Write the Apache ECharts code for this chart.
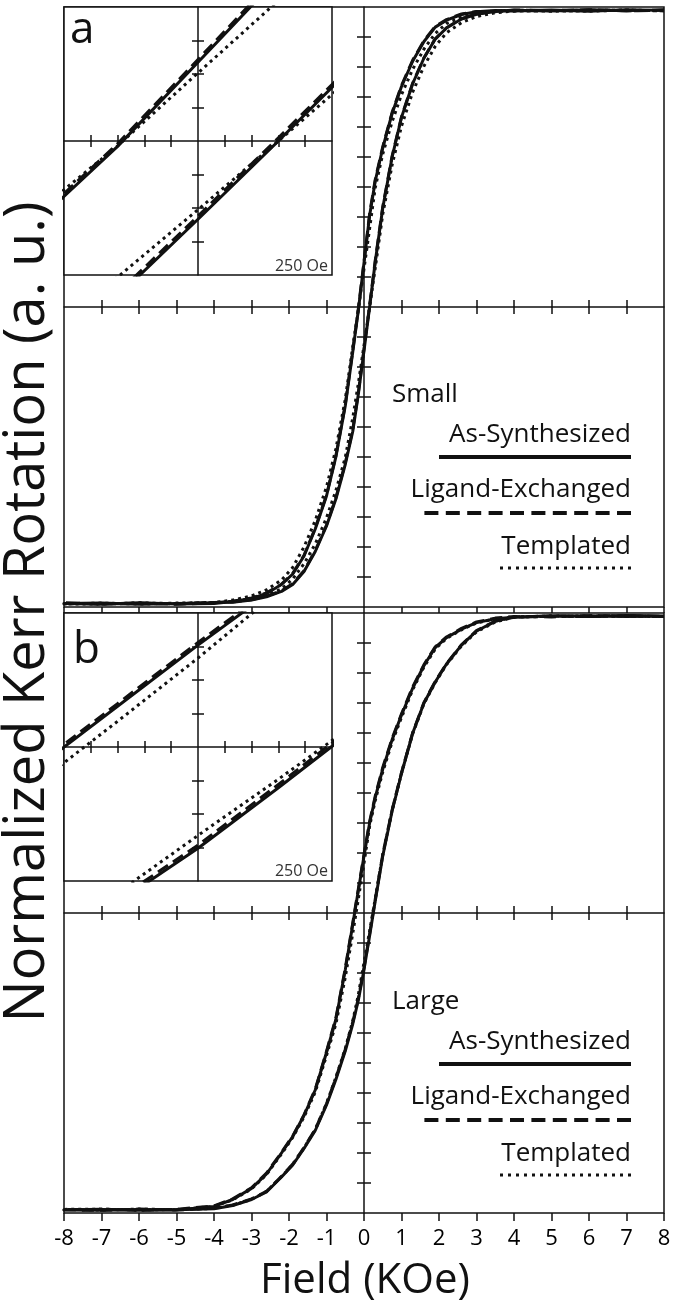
<!DOCTYPE html>
<html>
<head>
<meta charset="utf-8">
<script src="https://cdn.jsdelivr.net/npm/echarts@6/dist/echarts.min.js"></script>
<style>
  html, body { margin: 0; padding: 0; background: #fff; }
  #chart { width: 675px; height: 1305px; }
</style>
</head>
<body>
<div id="chart"></div>
<script>
// Applied field (kOe) for the descending sweep; the ascending sweep runs the same fields in reverse.
const fieldDown = [8, 7, 6, 5, 4, 3.5, 3, 2.6, 2.2, 1.9, 1.6, 1.3, 1, 0.75, 0.5, 0.3, 0.15, 0, -0.15, -0.3,
                   -0.5, -0.75, -1, -1.3, -1.6, -1.9, -2.2, -2.6, -3, -3.5, -4, -5, -6, -7, -8];
const fieldUp = fieldDown.slice().reverse();

// Field tick labels (kOe)
const fieldTicks = [-8, -7, -6, -5, -4, -3, -2, -1, 0, 1, 2, 3, 4, 5, 6, 7, 8];

// (a) Small particles: normalized Kerr rotation
const smallAsSynDown = [0.988, 0.991, 0.986, 0.990, 0.987, 0.988, 0.984, 0.975, 0.956, 0.933, 0.885, 0.820, 0.735, 0.645, 0.530, 0.420, 0.305, 0.147, -0.010, -0.150,
                        -0.330, -0.500, -0.630, -0.740, -0.830, -0.890, -0.925, -0.955, -0.972, -0.982, -0.988, -0.990, -0.986, -0.991, -0.988];
const smallAsSynUp = [-0.990, -0.987, -0.991, -0.988, -0.986, -0.984, -0.977, -0.966, -0.948, -0.925, -0.882, -0.815, -0.730, -0.640, -0.525, -0.415, -0.290, -0.146, 0.000, 0.150,
                      0.330, 0.500, 0.632, 0.745, 0.830, 0.893, 0.930, 0.960, 0.976, 0.985, 0.989, 0.987, 0.991, 0.988, 0.990];
const smallLigDown = [0.990, 0.987, 0.991, 0.988, 0.990, 0.986, 0.985, 0.977, 0.958, 0.935, 0.888, 0.823, 0.738, 0.649, 0.534, 0.425, 0.311, 0.152, -0.005, -0.145,
                      -0.325, -0.496, -0.627, -0.737, -0.828, -0.888, -0.924, -0.953, -0.970, -0.981, -0.986, -0.991, -0.988, -0.990, -0.986];
const smallLigUp = [-0.988, -0.990, -0.987, -0.990, -0.985, -0.983, -0.976, -0.964, -0.946, -0.922, -0.879, -0.812, -0.727, -0.636, -0.520, -0.409, -0.284, -0.140, 0.006, 0.155,
                    0.334, 0.503, 0.634, 0.747, 0.831, 0.894, 0.931, 0.961, 0.977, 0.986, 0.990, 0.988, 0.990, 0.987, 0.989];
const smallTplDown = [0.987, 0.990, 0.988, 0.986, 0.988, 0.984, 0.980, 0.966, 0.945, 0.912, 0.860, 0.793, 0.708, 0.618, 0.510, 0.398, 0.262, 0.127, -0.009, -0.132,
                      -0.308, -0.473, -0.600, -0.712, -0.800, -0.868, -0.910, -0.943, -0.963, -0.977, -0.985, -0.987, -0.990, -0.987, -0.990];
const smallTplUp = [-0.987, -0.990, -0.986, -0.989, -0.985, -0.981, -0.972, -0.961, -0.940, -0.906, -0.856, -0.790, -0.703, -0.612, -0.502, -0.370, -0.254, -0.128, 0.000, 0.130,
                    0.309, 0.474, 0.603, 0.717, 0.803, 0.869, 0.914, 0.948, 0.968, 0.981, 0.986, 0.988, 0.986, 0.990, 0.987];

// (b) Large particles: normalized Kerr rotation
const largeAsSynDown = [0.990, 0.992, 0.988, 0.991, 0.986, 0.981, 0.968, 0.946, 0.918, 0.885, 0.825, 0.750, 0.660, 0.578, 0.480, 0.385, 0.300, 0.190, 0.076, -0.038,
                        -0.190, -0.355, -0.465, -0.590, -0.675, -0.745, -0.800, -0.870, -0.918, -0.955, -0.978, -0.990, -0.988, -0.991, -0.989];
const largeAsSynUp = [-0.990, -0.988, -0.991, -0.989, -0.986, -0.975, -0.955, -0.930, -0.880, -0.840, -0.785, -0.725, -0.640, -0.555, -0.460, -0.370, -0.290, -0.189, -0.076, 0.040,
                      0.190, 0.340, 0.465, 0.600, 0.700, 0.770, 0.830, 0.893, 0.940, 0.972, 0.987, 0.990, 0.991, 0.988, 0.990];
const largeLigDown = [0.988, 0.990, 0.991, 0.987, 0.988, 0.983, 0.970, 0.949, 0.920, 0.887, 0.828, 0.754, 0.664, 0.582, 0.485, 0.390, 0.305, 0.195, 0.081, -0.033,
                      -0.185, -0.350, -0.461, -0.587, -0.673, -0.743, -0.798, -0.867, -0.916, -0.953, -0.976, -0.988, -0.991, -0.987, -0.990];
const largeLigUp = [-0.988, -0.991, -0.987, -0.990, -0.984, -0.973, -0.953, -0.928, -0.878, -0.837, -0.782, -0.721, -0.636, -0.550, -0.455, -0.364, -0.284, -0.183, -0.070, 0.046,
                    0.195, 0.344, 0.468, 0.602, 0.702, 0.772, 0.831, 0.894, 0.941, 0.973, 0.986, 0.990, 0.988, 0.991, 0.989];
const largeTplDown = [0.988, 0.990, 0.988, 0.990, 0.987, 0.980, 0.967, 0.944, 0.915, 0.880, 0.820, 0.745, 0.652, 0.570, 0.470, 0.375, 0.290, 0.166, 0.048, -0.068,
                      -0.215, -0.370, -0.475, -0.597, -0.680, -0.748, -0.803, -0.872, -0.920, -0.956, -0.978, -0.989, -0.987, -0.990, -0.988];
const largeTplUp = [-0.990, -0.987, -0.990, -0.988, -0.985, -0.974, -0.955, -0.928, -0.879, -0.838, -0.783, -0.722, -0.635, -0.548, -0.452, -0.360, -0.272, -0.165, -0.060, 0.048,
                    0.195, 0.342, 0.466, 0.598, 0.698, 0.768, 0.828, 0.890, 0.937, 0.970, 0.986, 0.989, 0.990, 0.990, 0.988];

const seriesNames = ['As-Synthesized', 'Ligand-Exchanged', 'Templated'];
const panelLabels = ['Small', 'Large'];

const FONT = '"Open Sans", "Noto Sans", sans-serif';
const INK = '#111';

// Inner tick positions for the axes that cross at the origin
const mainXTicks = [-7, -6, -5, -4, -3, -2, -1, 1, 2, 3, 4, 5, 6, 7];
const mainYTicks = [-0.9, -0.8, -0.7, -0.6, -0.5, -0.4, -0.3, -0.2, -0.1, 0.1, 0.2, 0.3, 0.4, 0.5, 0.6, 0.7, 0.8, 0.9];
const insetXTicks = [-0.2, -0.15, -0.1, -0.05, 0.05, 0.1, 0.15, 0.2];
const insetYTicks = [-0.1875, -0.125, -0.0625, 0.0625, 0.125, 0.1875];

function loop(down, up) {
  return fieldDown.map((x, i) => [x, down[i]]).concat(fieldUp.map((x, i) => [x, up[i]]));
}

const xAxes = [];
const yAxes = [];

// Builds a boxed cartesian frame with a pair of cross-hair axes through the origin.
function frame(grid, xr, yr, opts) {
  const xi = xAxes.length, yi = yAxes.length;
  const tickStyle = { color: INK, width: 1.5 };
  xAxes.push({
    gridIndex: grid, type: 'value', min: xr[0], max: xr[1], interval: xr[2], position: 'bottom',
    axisLine: { show: false, onZero: false },
    axisTick: { show: !!opts.bottomTicks, length: opts.bottomTicks || 0, lineStyle: tickStyle },
    axisLabel: opts.labels ? {
      show: true, margin: 15, color: '#000', fontSize: 22, fontFamily: FONT, customValues: fieldTicks
    } : { show: false },
    splitLine: { show: false }
  });
  yAxes.push({
    gridIndex: grid, type: 'value', min: yr[0], max: yr[1], interval: yr[2], position: 'left',
    axisLine: { show: false, onZero: false }, axisTick: { show: false },
    axisLabel: { show: false }, splitLine: { show: false }
  });
  [true, false].forEach(inside => {
    xAxes.push({
      gridIndex: grid, type: 'value', min: xr[0], max: xr[1], interval: xr[2], position: 'bottom',
      axisLine: { show: inside, onZero: true, onZeroAxisIndex: yi, lineStyle: { color: INK, width: 1.5 } },
      axisTick: { show: true, inside: inside, length: opts.crossTick, customValues: opts.xTicks, lineStyle: tickStyle },
      axisLabel: { show: false }, splitLine: { show: false }
    });
    yAxes.push({
      gridIndex: grid, type: 'value', min: yr[0], max: yr[1], interval: yr[2], position: 'left',
      axisLine: { show: inside, onZero: true, onZeroAxisIndex: xi, lineStyle: { color: INK, width: 1.5 } },
      axisTick: { show: true, inside: inside, length: opts.crossTick, customValues: opts.yTicks, lineStyle: tickStyle },
      axisLabel: { show: false }, splitLine: { show: false }
    });
  });
  return { xi, yi };
}

const boxStyle = { show: true, borderColor: INK, borderWidth: 1.5, backgroundColor: '#fff' };
const grids = [
  Object.assign({ left: 64, top: 7, width: 600, height: 600 }, boxStyle),
  Object.assign({ left: 64, top: 613, width: 600, height: 600 }, boxStyle),
  Object.assign({ left: 64, top: 7, width: 268, height: 268 }, boxStyle),
  Object.assign({ left: 64, top: 613, width: 268, height: 268 }, boxStyle)
];

const mainA = frame(0, [-8, 8, 1], [-1, 1, 0.1], { bottomTicks: 6, crossTick: 7, xTicks: mainXTicks, yTicks: mainYTicks });
const mainB = frame(1, [-8, 8, 1], [-1, 1, 0.1], { bottomTicks: 8, labels: true, crossTick: 7, xTicks: mainXTicks, yTicks: mainYTicks });
const insetA = frame(2, [-0.25, 0.25, 0.05], [-0.25, 0.25, 0.0625], { crossTick: 6, xTicks: insetXTicks, yTicks: insetYTicks });
const insetB = frame(3, [-0.25, 0.25, 0.05], [-0.25, 0.25, 0.0625], { crossTick: 6, xTicks: insetXTicks, yTicks: insetYTicks });

const lineTypes = ['solid', [12, 6], [3, 4]];
const panels = [
  { axes: [mainA, insetA], loops: [loop(smallAsSynDown, smallAsSynUp), loop(smallLigDown, smallLigUp), loop(smallTplDown, smallTplUp)] },
  { axes: [mainB, insetB], loops: [loop(largeAsSynDown, largeAsSynUp), loop(largeLigDown, largeLigUp), loop(largeTplDown, largeTplUp)] }
];

const series = [];
panels.forEach(p => {
  p.axes.forEach(ax => {
    p.loops.forEach((data, k) => {
      series.push({
        name: seriesNames[k], type: 'line', data: data,
        xAxisIndex: ax.xi, yAxisIndex: ax.yi,
        showSymbol: false, symbol: 'none', clip: true, z: 3 + k,
        lineStyle: { color: INK, width: 3, type: lineTypes[k], cap: 'butt', join: 'round' },
        emphasis: { disabled: true }
      });
    });
  });
});

// Legend block and annotation text
function legendBlock(y0, title) {
  return [
    { type: 'text', x: 392, y: y0, style: { text: title, font: '26px ' + FONT, fill: INK, align: 'left', verticalAlign: 'middle' } },
    { type: 'text', x: 631, y: y0 + 40, style: { text: seriesNames[0], font: '26px ' + FONT, fill: INK, align: 'right', verticalAlign: 'middle' } },
    { type: 'line', shape: { x1: 631, y1: y0 + 62, x2: 439, y2: y0 + 62 }, style: { stroke: INK, lineWidth: 4 } },
    { type: 'text', x: 631, y: y0 + 95, style: { text: seriesNames[1], font: '26px ' + FONT, fill: INK, align: 'right', verticalAlign: 'middle' } },
    { type: 'line', shape: { x1: 631, y1: y0 + 118, x2: 424, y2: y0 + 118 }, style: { stroke: INK, lineWidth: 4, lineDash: [14, 7.4] } },
    { type: 'text', x: 631, y: y0 + 152, style: { text: seriesNames[2], font: '26px ' + FONT, fill: INK, align: 'right', verticalAlign: 'middle' } },
    { type: 'line', shape: { x1: 631, y1: y0 + 173, x2: 498, y2: y0 + 173 }, style: { stroke: INK, lineWidth: 3, lineDash: [3, 5] } }
  ];
}

const graphics = [
  { type: 'text', x: 28, y: 612, rotation: Math.PI / 2,
    style: { text: 'Normalized Kerr Rotation (a. u.)', font: '56px ' + FONT, fill: INK, align: 'center', verticalAlign: 'middle' } },
  { type: 'text', x: 365, y: 1281,
    style: { text: 'Field (KOe)', font: '42px ' + FONT, fill: INK, align: 'center', verticalAlign: 'middle' } },
  { type: 'text', x: 70, y: 30, z: 10, style: { text: 'a', font: '44px ' + FONT, fill: INK, align: 'left', verticalAlign: 'middle' } },
  { type: 'text', x: 73, y: 650, z: 10, style: { text: 'b', font: '44px ' + FONT, fill: INK, align: 'left', verticalAlign: 'middle' } },
  { type: 'text', x: 328, y: 266, z: 10, style: { text: '250 Oe', font: '16px ' + FONT, fill: '#333', align: 'right', verticalAlign: 'middle' } },
  { type: 'text', x: 328, y: 871, z: 10, style: { text: '250 Oe', font: '16px ' + FONT, fill: '#333', align: 'right', verticalAlign: 'middle' } }
].concat(legendBlock(395, panelLabels[0]), legendBlock(1002, panelLabels[1]));

const chart = echarts.init(document.getElementById('chart'), null, { renderer: 'canvas' });
chart.setOption({
  animation: false,
  backgroundColor: '#fff',
  grid: grids,
  xAxis: xAxes,
  yAxis: yAxes,
  series: series,
  graphic: graphics
});
</script>
</body>
</html>
